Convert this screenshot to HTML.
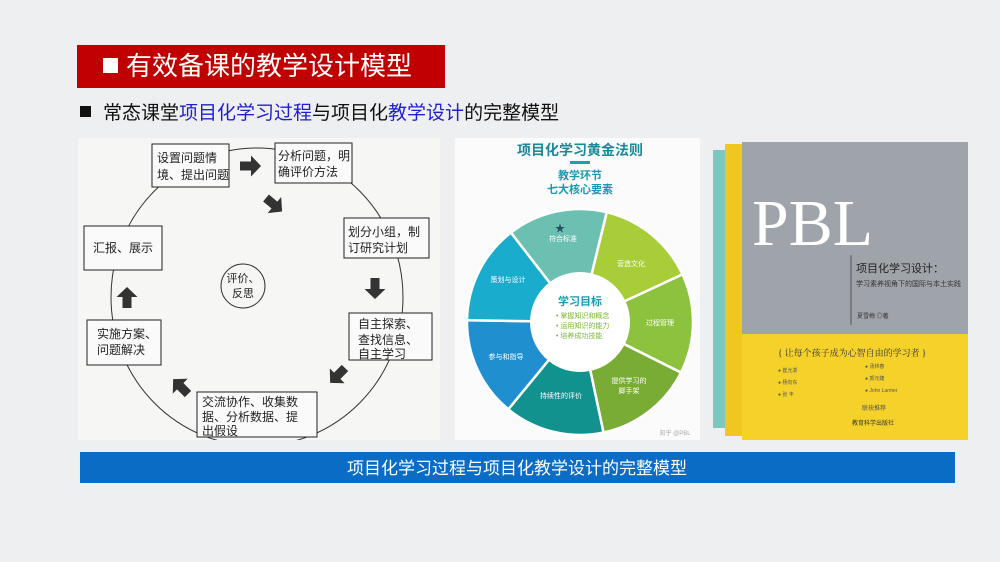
<!DOCTYPE html>
<html><head><meta charset="utf-8"><style>
body{margin:0;width:1000px;height:562px;background:#eeeff0;font-family:"Liberation Sans","Noto Sans CJK SC",sans-serif;position:relative;overflow:hidden}
.abs{position:absolute}
</style></head><body>
<div class="abs" style="left:77px;top:45px;width:368px;height:43px;background:#c00000;color:#fff;font-size:26px;line-height:43px;"><span style="display:inline-block;width:15px;height:15px;background:#fff;margin:0 8px 0 26px;vertical-align:2px"></span>有效备课的教学设计模型</div>
<div class="abs" style="left:80px;top:101px;font-size:19px;line-height:26px;color:#111"><span style="display:inline-block;width:11px;height:11px;background:#111;margin-right:12px;vertical-align:2px"></span>常态课堂<span style="color:#1f1fd0">项目化学习过程</span>与项目化<span style="color:#1f1fd0">教学设计</span>的完整模型</div>

<svg class="abs" style="left:0;top:0" width="1000" height="562" font-family="Liberation Sans,Noto Sans CJK SC,sans-serif">
<defs><clipPath id="cl"><rect x="78" y="138" width="362" height="302"/></clipPath></defs>
<rect x="78" y="138" width="362" height="302" fill="#f6f6f4"/>
<ellipse cx="257" cy="297" rx="146" ry="149" fill="none" stroke="#333" stroke-width="1" clip-path="url(#cl)"/>
<circle cx="243" cy="286" r="22" fill="#f6f6f4" stroke="#333"/>
<text x="243" y="282" font-size="11" text-anchor="middle" fill="#222">评价、</text>
<text x="243" y="297" font-size="11" text-anchor="middle" fill="#222">反思</text>
<g fill="#fafafa" stroke="#222" stroke-width="1">
<rect x="152" y="144" width="77" height="43"/><rect x="275" y="143" width="77" height="40"/>
<rect x="344" y="218" width="85" height="40"/><rect x="349" y="313" width="83" height="47"/>
<rect x="197" y="392" width="120" height="45"/><rect x="87" y="320" width="74" height="45"/>
<rect x="84" y="226" width="78" height="44"/></g>
<g font-size="12" fill="#222">
<text x="157" y="162">设置问题情</text><text x="157" y="179">境、提出问题</text>
<text x="278" y="160">分析问题，明</text><text x="278" y="176">确评价方法</text>
<text x="348" y="236">划分小组，制</text><text x="348" y="252">订研究计划</text>
<text x="358" y="328">自主探索、</text><text x="358" y="344">查找信息、</text><text x="358" y="358">自主学习</text>
<text x="202" y="406">交流协作、收集数</text><text x="202" y="421">据、分析数据、提</text><text x="202" y="435">出假设</text>
<text x="97" y="338">实施方案、</text><text x="97" y="354">问题解决</text>
<text x="93" y="252">汇报、展示</text></g>
<g fill="#333">
<path d="M0 -4.5h11v-6l10 10.5-10 10.5v-6h-11z" transform="translate(240 166)"/>
<path d="M0 -4.5h11v-6l10 10.5-10 10.5v-6h-11z" transform="translate(266 198) rotate(40)"/>
<path d="M0 -4.5h11v-6l10 10.5-10 10.5v-6h-11z" transform="translate(375 278) rotate(90)"/>
<path d="M0 -4.5h11v-6l10 10.5-10 10.5v-6h-11z" transform="translate(345 368) rotate(135)"/>
<path d="M0 -4.5h11v-6l10 10.5-10 10.5v-6h-11z" transform="translate(188 394) rotate(-135)"/>
<path d="M0 -4.5h11v-6l10 10.5-10 10.5v-6h-11z" transform="translate(127 308) rotate(-90)"/></g>

<rect x="455" y="138" width="245" height="302" fill="#fbfbfb"/>
<text x="580" y="155" font-size="14" font-weight="bold" fill="#1a8a9a" text-anchor="middle">项目化学习黄金法则</text>
<rect x="570" y="161" width="20" height="3" fill="#1aa0b0"/>
<text x="580" y="179" font-size="11" font-weight="bold" fill="#1a9ab0" text-anchor="middle">教学环节</text>
<text x="580" y="193" font-size="11" font-weight="bold" fill="#1a9ab0" text-anchor="middle">七大核心要素</text>
<g stroke="#fff" stroke-width="2.5">
<path d="M580 322L510.9 232.6A113 113 0 0 1 606.8 212.2Z" fill="#6cc0b2"/>
<path d="M580 322L606.8 212.2A113 113 0 0 1 682.5 274.4Z" fill="#a9cd38"/>
<path d="M580 322L682.5 274.4A113 113 0 0 1 681 372.6Z" fill="#8dc23f"/>
<path d="M580 322L681 372.6A113 113 0 0 1 603.5 432.5Z" fill="#79ac34"/>
<path d="M580 322L603.5 432.5A113 113 0 0 1 508.3 409.3Z" fill="#12928f"/>
<path d="M580 322L508.3 409.3A113 113 0 0 1 467 320.2Z" fill="#1f8fd0"/>
<path d="M580 322L467 320.2A113 113 0 0 1 510.9 232.6Z" fill="#1aaccc"/>
</g>
<circle cx="580" cy="322" r="50" fill="#fff"/>
<text x="580" y="305" font-size="11" font-weight="bold" fill="#1a9ab0" text-anchor="middle">学习目标</text>
<g font-size="7" fill="#7ab82e"><text x="556" y="318">• 掌握知识和概念</text><text x="556" y="328">• 运用知识的能力</text><text x="556" y="338">• 培养成功技能</text></g>
<g font-size="7" fill="#fff" text-anchor="middle">
<text x="560" y="232" font-size="10" fill="#2a4a6a">★</text>
<text x="563" y="241">符合标准</text><text x="631" y="266">营造文化</text><text x="660" y="325">过程管理</text>
<text x="629" y="383">提供学习的</text><text x="629" y="393">脚手架</text><text x="561" y="398">持续性的评价</text>
<text x="506" y="359">参与和指导</text><text x="508" y="282">策划与设计</text></g>
<text x="675" y="435" font-size="6" fill="#aaa" text-anchor="middle">知乎 @PBL</text>

<rect x="713" y="150" width="14" height="278" fill="#7cc8c0"/>
<rect x="725" y="144" width="17" height="292" fill="#f0c620"/>
<rect x="742" y="142" width="226" height="196" fill="#9ea4aa"/>
<rect x="742" y="334" width="226" height="106" fill="#f5d22a"/>
<text x="752" y="245" font-family="Liberation Serif,serif" font-size="66" fill="#fff">PBL</text>
<line x1="851" y1="255" x2="851" y2="325" stroke="#555"/>
<text x="856" y="272" font-size="11" fill="#222">项目化学习设计：</text>
<text x="856" y="286" font-size="7" fill="#333">学习素养视角下的国际与本土实践</text>
<text x="857" y="318" font-size="6" fill="#333">夏雪梅 ◎著</text>
<text x="778" y="356" font-family="Liberation Serif,Noto Serif CJK SC,serif" font-size="9" fill="#333">{ 让每个孩子成为心智自由的学习者 }</text>
<g font-size="5" fill="#555"><text x="778" y="372">● 崔允漷</text><text x="778" y="384">● 杨向东</text><text x="778" y="396">● 张 丰</text><text x="865" y="368">● 汤林春</text><text x="865" y="380">● 郭元婕</text><text x="865" y="392">● John Larmer</text></g>
<text x="862" y="410" font-size="6" fill="#555">联袂推荐</text>
<text x="852" y="425" font-size="6" fill="#333">教育科学出版社</text>

<rect x="80" y="452" width="875" height="31" fill="#0a6cc4"/>
<text x="517" y="474" font-size="17" fill="#fff" text-anchor="middle">项目化学习过程与项目化教学设计的完整模型</text>
</svg>
</body></html>
